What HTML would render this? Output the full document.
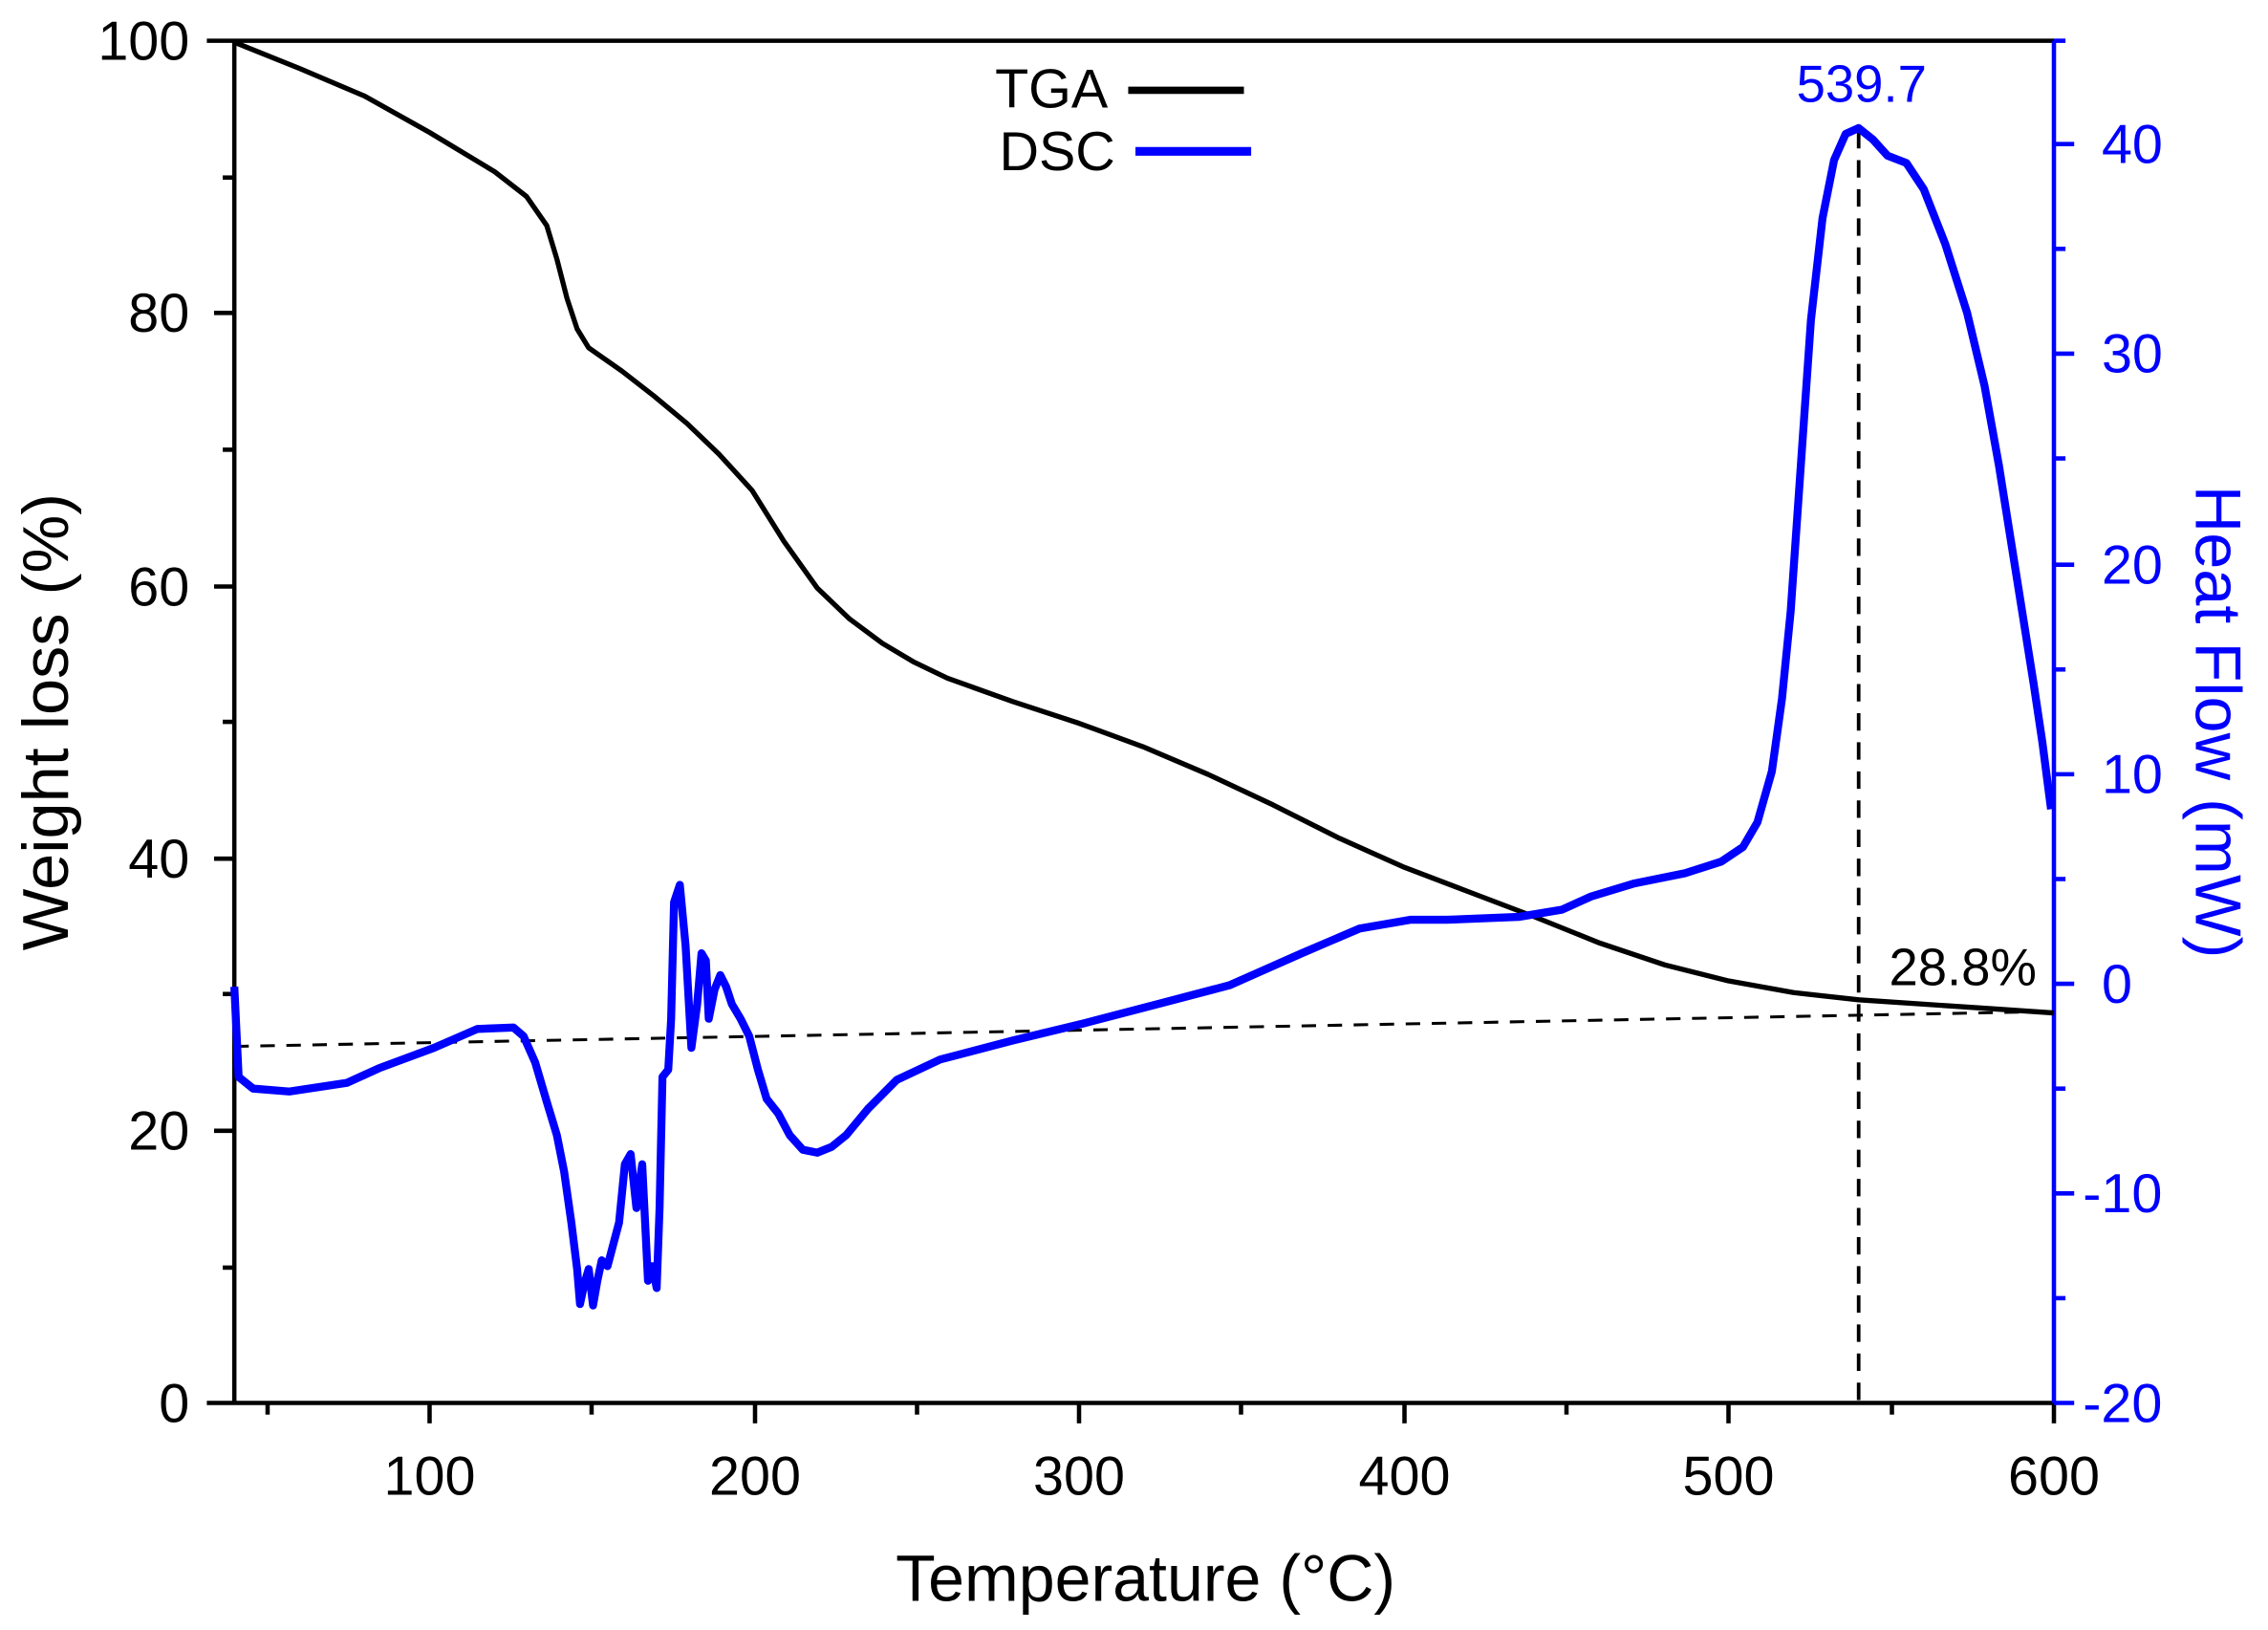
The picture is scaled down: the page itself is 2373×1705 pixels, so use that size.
<!DOCTYPE html>
<html><head><meta charset="utf-8"><style>
html,body{margin:0;padding:0;background:#fff;}
svg{display:block;}
text{font-family:"Liberation Sans",Arial,sans-serif;}
</style></head><body>
<svg width="2373" height="1705" viewBox="0 0 1568 1120" preserveAspectRatio="none" xmlns="http://www.w3.org/2000/svg">
<rect width="1568" height="1120" fill="#fff"/>
<line x1="143" y1="28" x2="1420" y2="28" stroke="#000" stroke-width="3"/>
<line x1="162" y1="28" x2="162" y2="965" stroke="#000" stroke-width="3"/>
<line x1="143" y1="964" x2="1420" y2="964" stroke="#000" stroke-width="3"/>
<line x1="1420" y1="28" x2="1420" y2="965" stroke="#0000ff" stroke-width="3"/>
<g stroke="#000" stroke-width="3">
<line x1="148" y1="215" x2="162" y2="215"/><line x1="148" y1="403" x2="162" y2="403"/>
<line x1="148" y1="590" x2="162" y2="590"/><line x1="148" y1="777" x2="162" y2="777"/>
<line x1="154" y1="122" x2="162" y2="122"/><line x1="154" y1="309" x2="162" y2="309"/>
<line x1="154" y1="496" x2="162" y2="496"/><line x1="154" y1="683" x2="162" y2="683"/>
<line x1="154" y1="871" x2="162" y2="871"/>
<line x1="297" y1="964" x2="297" y2="978"/><line x1="522" y1="964" x2="522" y2="978"/>
<line x1="746" y1="964" x2="746" y2="978"/><line x1="971" y1="964" x2="971" y2="978"/>
<line x1="1195" y1="964" x2="1195" y2="978"/><line x1="1420" y1="964" x2="1420" y2="978"/>
<line x1="185" y1="964" x2="185" y2="972"/><line x1="409" y1="964" x2="409" y2="972"/>
<line x1="634" y1="964" x2="634" y2="972"/><line x1="858" y1="964" x2="858" y2="972"/>
<line x1="1083" y1="964" x2="1083" y2="972"/><line x1="1308" y1="964" x2="1308" y2="972"/>
</g>
<g font-size="38" fill="#000" text-anchor="end">
<text x="131" y="41">100</text><text x="131" y="228">80</text><text x="131" y="416">60</text>
<text x="131" y="603">40</text><text x="131" y="790">20</text><text x="131" y="977">0</text>
</g>
<g font-size="38" fill="#000" text-anchor="middle">
<text x="297" y="1027">100</text><text x="522" y="1027">200</text><text x="746" y="1027">300</text>
<text x="971" y="1027">400</text><text x="1195" y="1027">500</text><text x="1420" y="1027">600</text>
</g>
<g stroke="#0000ff" stroke-width="3">
<line x1="1420" y1="99" x2="1434" y2="99"/><line x1="1420" y1="243" x2="1434" y2="243"/>
<line x1="1420" y1="388" x2="1434" y2="388"/><line x1="1420" y1="532" x2="1434" y2="532"/>
<line x1="1420" y1="676" x2="1434" y2="676"/><line x1="1420" y1="820" x2="1434" y2="820"/>
<line x1="1420" y1="964" x2="1434" y2="964"/>
<line x1="1420" y1="28" x2="1428" y2="28"/><line x1="1420" y1="171" x2="1428" y2="171"/>
<line x1="1420" y1="315" x2="1428" y2="315"/><line x1="1420" y1="460" x2="1428" y2="460"/>
<line x1="1420" y1="604" x2="1428" y2="604"/><line x1="1420" y1="748" x2="1428" y2="748"/>
<line x1="1420" y1="892" x2="1428" y2="892"/>
</g>
<g font-size="38" fill="#0000ff">
<text x="1453" y="112">40</text><text x="1453" y="256">30</text><text x="1453" y="401">20</text>
<text x="1453" y="545">10</text><text x="1453" y="689">0</text><text x="1440" y="833">-10</text>
<text x="1440" y="977">-20</text>
</g>
<text x="792" y="1100" font-size="45" text-anchor="middle" fill="#000">Temperature (°C)</text>
<text transform="translate(47,496) rotate(-90)" font-size="45" text-anchor="middle" fill="#000">Weight loss (%)</text>
<text transform="translate(1518,496) rotate(90)" font-size="45" text-anchor="middle" fill="#0000ff">Heat Flow (mW)</text>
<text x="766" y="74" font-size="38" text-anchor="end" fill="#000">TGA</text>
<line x1="780" y1="62" x2="860" y2="62" stroke="#000" stroke-width="5"/>
<text x="771" y="117" font-size="38" text-anchor="end" fill="#000">DSC</text>
<line x1="785" y1="104" x2="865" y2="104" stroke="#0000ff" stroke-width="6"/>
<line x1="162" y1="719" x2="1420" y2="695" stroke="#000" stroke-width="2" stroke-dasharray="10,8"/>
<line x1="1285" y1="90" x2="1285" y2="964" stroke="#000" stroke-width="2.5" stroke-dasharray="12,8"/>
<text x="1287" y="70" font-size="36" text-anchor="middle" fill="#0000ff">539.7</text>
<text x="1357" y="677" font-size="36" text-anchor="middle" fill="#000">28.8%</text>
<polyline fill="none" stroke="#000" stroke-width="3.5" stroke-linejoin="round"
points="162,29 207,47 252,66 297,91 342,118 364,135 378,155 385,178 392,205 399,226 407,239 430,255 452,272 475,291 497,312 520,337 542,372 565,404 587,425 610,442 632,455 655,466 700,482 746,497 790,513 835,532 880,553 926,576 971,596 1016,613 1061,630 1106,648 1151,663 1195,674 1240,682 1285,687 1330,690 1375,693 1420,696"/>
<polyline fill="none" stroke="#0000ff" stroke-width="5.5" stroke-linejoin="round"
points="162,678 165,740 175,748 200,750 240,744 262,734 300,720 330,707 355,706 362,712 370,730 378,757 385,780 390,805 395,840 399,872 401,896 404,882 407,872 410,897 413,880 416,866 420,870 424,855 428,840 432,800 436,793 440,830 444,800 448,880 451,870 454,885 456,830 458,740 462,735 464,700 466,620 470,608 474,650 478,720 482,690 485,655 488,660 490,700 494,680 498,670 502,678 506,690 512,700 518,712 524,735 530,755 538,765 546,780 555,790 565,792 575,788 585,780 600,762 620,742 650,728 700,715 750,703 800,690 850,677 900,655 940,638 975,632 1000,632 1050,630 1080,625 1100,616 1130,607 1165,600 1190,592 1205,582 1215,565 1225,530 1232,480 1238,420 1245,320 1252,220 1260,150 1268,110 1276,92 1285,88 1295,96 1305,107 1318,112 1330,130 1345,168 1360,215 1372,265 1382,320 1390,370 1398,420 1406,470 1412,510 1418,556"/>
</svg>
</body></html>
